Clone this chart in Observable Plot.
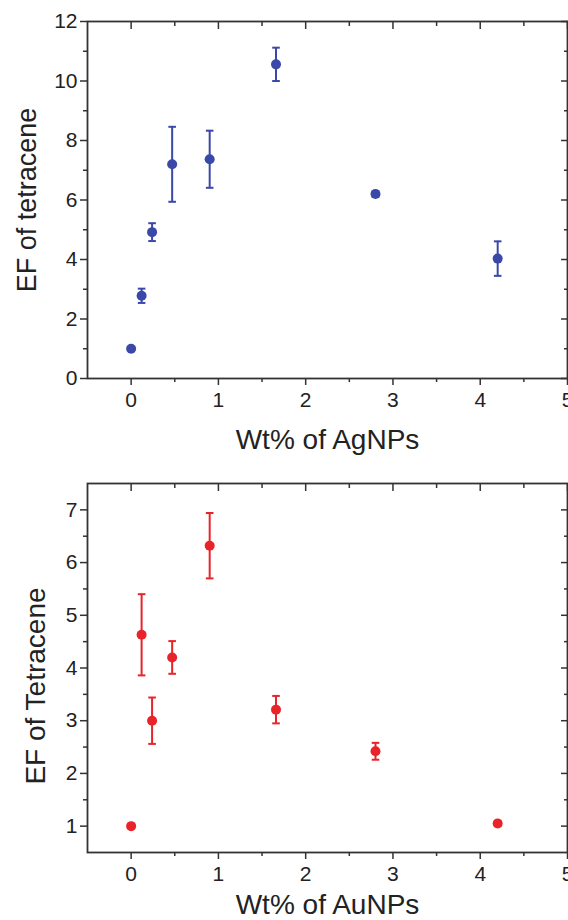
<!DOCTYPE html>
<html><head><meta charset="utf-8">
<script src="https://cdn.jsdelivr.net/npm/d3@7"></script>
<script src="https://cdn.jsdelivr.net/npm/@observablehq/plot@0.6"></script>
<style>body{margin:0;background:#fff;} #chart svg{display:block;}</style>
</head><body><div id="chart"></div>
<script>
// Data: Ag nanoparticles (top panel)
const agX   = [0, 0.12, 0.24, 0.47, 0.9, 1.66, 2.8, 4.2];
const agEF  = [1.0, 2.78, 4.92, 7.2, 7.37, 10.56, 6.2, 4.03];
const agErr = [0.05, 0.24, 0.30, 1.26, 0.96, 0.56, 0.10, 0.58];
// Data: Au nanoparticles (bottom panel)
const auX   = [0, 0.12, 0.24, 0.47, 0.9, 1.66, 2.8, 4.2];
const auEF  = [1.0, 4.63, 3.0, 4.2, 6.32, 3.21, 2.42, 1.05];
const auErr = [0.03, 0.77, 0.44, 0.31, 0.62, 0.26, 0.16, 0.05];
// Tick values
const xMajor = [0, 1, 2, 3, 4, 5];
const xMinor = [0.5, 1.5, 2.5, 3.5, 4.5];
const agYMajor = [0, 2, 4, 6, 8, 10, 12];
const agYMinor = [1, 3, 5, 7, 9, 11];
const auYMajor = [1, 2, 3, 4, 5, 6, 7];
const auYMinor = [1.5, 2.5, 3.5, 4.5, 5.5, 6.5];

const capSymbol = {draw(ctx, size) { const w = Math.sqrt(size / Math.PI); ctx.moveTo(-w, 0); ctx.lineTo(w, 0); }};
const FONT = "'Liberation Sans', Arial, Helvetica, sans-serif";
const AX = "#333";

function panel({xs, ys, errs, color, yDomain, yMajor, yMinor, xLabel, yLabel, height, marginTop, marginBottom, marginLeft, xLabelDy, yLabelDx, yLabelDy, yLabelSize}) {
  const rows = xs.map((x, i) => ({x, y: ys[i], lo: ys[i] - errs[i], hi: ys[i] + errs[i]}));
  const none = () => "";
  return Plot.plot({
    width: 568, height, marginTop, marginBottom, marginLeft, marginRight: 1,
    style: {fontFamily: FONT, background: "#fff", color: "#222"},
    x: {domain: [-0.5, 5]},
    y: {domain: yDomain},
    marks: [
      Plot.axisX({anchor: "bottom", ticks: xMajor, tickSize: 7, tickPadding: 7, fontSize: 21, stroke: AX, strokeWidth: 1.5, label: null, tickFormat: d => String(d)}),
      Plot.axisX({anchor: "bottom", ticks: xMinor, tickSize: 4, stroke: AX, strokeWidth: 1.5, label: null, tickFormat: none}),
      Plot.axisX({anchor: "top", ticks: xMajor, tickSize: -7, stroke: AX, strokeWidth: 1.5, label: null, tickFormat: none}),
      Plot.axisX({anchor: "top", ticks: xMinor, tickSize: -4, stroke: AX, strokeWidth: 1.5, label: null, tickFormat: none}),
      Plot.axisY({anchor: "left", ticks: yMajor, tickSize: 7, tickPadding: 3, fontSize: 21, stroke: AX, strokeWidth: 1.5, label: null, tickFormat: d => String(d)}),
      Plot.axisY({anchor: "left", ticks: yMinor, tickSize: 4, stroke: AX, strokeWidth: 1.5, label: null, tickFormat: none}),
      Plot.axisY({anchor: "right", ticks: yMajor, tickSize: -7, stroke: AX, strokeWidth: 1.5, label: null, tickFormat: none}),
      Plot.axisY({anchor: "right", ticks: yMinor, tickSize: -4, stroke: AX, strokeWidth: 1.5, label: null, tickFormat: none}),
      Plot.frame({stroke: AX, strokeWidth: 1.8}),
      Plot.ruleX(rows, {x: "x", y1: "lo", y2: "hi", stroke: color, strokeWidth: 2}),
      Plot.dot(rows, {x: "x", y: "hi", symbol: capSymbol, r: 3.8, stroke: color, fill: "none", strokeWidth: 2}),
      Plot.dot(rows, {x: "x", y: "lo", symbol: capSymbol, r: 3.8, stroke: color, fill: "none", strokeWidth: 2}),
      Plot.dot(rows, {x: "x", y: "y", r: 5, fill: color, stroke: "none"}),
      Plot.text([xLabel], {text: d => d, frameAnchor: "bottom", dy: xLabelDy, fontSize: 28, fill: "#222", textAnchor: "middle", lineAnchor: "middle"}),
      Plot.text([yLabel], {text: d => d, frameAnchor: "left", dx: yLabelDx, dy: yLabelDy, rotate: -90, fontSize: yLabelSize, fill: "#222", textAnchor: "middle", lineAnchor: "middle"})
    ]
  });
}

const chart = document.getElementById("chart");
chart.append(panel({xs: agX, ys: agEF, errs: agErr, color: "#3a48a8", yDomain: [0, 12], yMajor: agYMajor, yMinor: agYMinor,
  xLabel: "Wt% of AgNPs", yLabel: "EF of tetracene", height: 462, marginTop: 21, marginBottom: 84, marginLeft: 87,
  xLabelDy: 62, yLabelDx: -60, yLabelDy: 0, yLabelSize: 27}));
chart.append(panel({xs: auX, ys: auEF, errs: auErr, color: "#e8232a", yDomain: [0.5, 7.5], yMajor: auYMajor, yMinor: auYMinor,
  xLabel: "Wt% of AuNPs", yLabel: "EF of Tetracene", height: 458, marginTop: 21, marginBottom: 68, marginLeft: 87,
  xLabelDy: 53, yLabelDx: -51, yLabelDy: 18, yLabelSize: 28}));
</script></body></html>
